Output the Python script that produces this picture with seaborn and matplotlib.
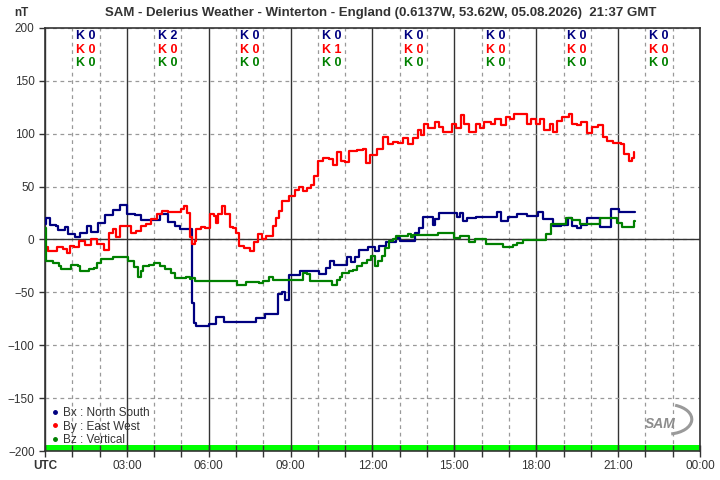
import numpy as np
import pandas as pd
import seaborn as sns
import matplotlib.pyplot as plt
from matplotlib.lines import Line2D
from matplotlib.patches import Arc
from matplotlib.ticker import MultipleLocator

# hours (UTC) and values in nT
bx_hours = [0.0, 0.05, 0.18, 0.4, 0.49, 0.75, 0.85, 1.1, 1.3, 1.55, 1.7, 1.95, 2.2, 2.5, 2.75, 3.0,
            3.3, 3.5, 4.0, 4.2, 4.5, 4.75, 4.95, 5.3, 5.4, 5.45, 5.55, 6.0, 6.25, 6.55, 7.6, 7.72,
            8.05, 8.55, 8.7, 8.8, 8.95, 9.35, 9.9, 10.05, 10.3, 10.45, 10.6, 11.05, 11.2, 11.35,
            11.5, 11.85, 12.1, 12.25, 12.5, 12.85, 13.0, 13.4, 13.55, 13.7, 13.85, 14.2, 14.3,
            14.42, 15.1, 15.2, 15.3, 15.45, 15.8, 16.55, 16.7, 16.95, 17.3, 17.65, 18.05, 18.25,
            18.6, 18.9, 19.15, 19.3, 19.5, 19.65, 19.85, 20.35, 20.75, 21.05, 21.3, 21.62]
bx_values = [15, 20, 14, 13, 9, 12, 5, 2, 6, 13, 7, 16, 23, 28, 33, 24,
             23, 18, 18, 24, 17, 13, 10, 10, -60, -79, -82, -80, -73, -78, -78, -74,
             -70, -52, -50, -57, -34, -30, -30, -33, -27, -20, -24, -17, -21, -17,
             -10, -7, -11, -6, -2, 1, -1, -1, 6.5, 11, 21, 14, 19,
             24.6, 21, 24.6, 17.7, 20, 21.5, 25.6, 17.7, 21.5, 24, 22, 26, 19,
             13, 14, 20, 13, 11, 14, 20, 11.7, 28.4, 25.6, 26, 26]

by_hours = [0.0, 0.1, 0.3, 0.45, 0.65, 0.8, 0.9, 1.05, 1.25, 1.45, 1.7, 1.9, 2.15, 2.35, 2.5, 2.6,
            2.75, 3.0, 3.15, 3.35, 3.5, 3.7, 3.9, 4.1, 4.3, 4.5, 4.85, 5.0, 5.1, 5.22, 5.3, 5.37,
            5.5, 5.55, 5.7, 5.85, 6.05, 6.2, 6.27, 6.35, 6.5, 6.6, 6.78, 6.9, 7.0, 7.1, 7.3, 7.5,
            7.65, 7.8, 7.95, 8.1, 8.35, 8.45, 8.58, 8.7, 8.95, 9.15, 9.3, 9.45, 9.6, 9.75, 9.85,
            10.0, 10.2, 10.4, 10.54, 10.7, 10.85, 11.0, 11.15, 11.45, 11.65, 11.76, 11.9, 12.15,
            12.4, 12.55, 12.75, 12.95, 13.1, 13.3, 13.5, 13.65, 13.78, 13.9, 14.05, 14.3, 14.45,
            14.6, 14.9, 15.05, 15.25, 15.35, 15.55, 15.8, 15.95, 16.1, 16.35, 16.5, 16.7, 16.9,
            17.05, 17.2, 17.55, 17.65, 17.8, 18.0, 18.15, 18.3, 18.5, 18.6, 18.75, 18.95, 19.2,
            19.3, 19.5, 19.65, 19.85, 20.05, 20.25, 20.45, 20.6, 20.8, 21.1, 21.2, 21.4, 21.52, 21.6]
by_values = [-7, -11, -11, -7, -9, -13, -6, -7, -1.6, -5, 0.6, -4, -9.5, 6, 9.6, 2,
             12.7, 13, 6, 8, 12.7, 15, 19, 24, 27, 26, 26, 29, 32, 25, 2, -4,
             -1, 10, 12, 11, 24, 22, 16, 24, 31.6, 24, 12, 11, 6, -6, -8, -11,
             -2, 5, 0, 3, 12.6, 20, 27, 36, 41, 47, 50, 46, 49, 52, 60,
             74, 77, 76, 70, 83, 74, 73, 84, 85, 86, 72, 80, 86,
             97, 90, 92, 91, 96, 90, 96, 104, 99, 109, 105, 111, 106,
             102, 109, 105, 118, 109, 102, 109, 105, 111, 109, 114, 108, 115.5,
             114, 118.5, 118.5, 109, 114, 109, 114, 104, 109, 102, 112, 115.5, 118.5,
             109, 108, 111, 101, 106, 108, 97, 93, 91, 90, 80.5, 74, 77, 83]

bz_hours = [0.0, 0.02, 0.3, 0.5, 0.6, 0.95, 1.2, 1.3, 1.6, 1.8, 1.9, 2.05, 2.5, 3.05, 3.25, 3.42,
            3.5, 3.6, 3.8, 4.0, 4.2, 4.4, 4.6, 4.75, 5.15, 5.3, 5.4, 5.5, 7.05, 7.35, 7.85, 8.0,
            8.2, 8.35, 9.45, 9.6, 9.7, 10.5, 10.7, 10.8, 10.9, 11.15, 11.3, 11.45, 11.6, 11.8,
            11.95, 12.1, 12.2, 12.35, 12.46, 12.6, 12.75, 12.85, 13.3, 13.4, 13.5, 14.4, 15.0,
            15.2, 15.55, 15.75, 16.15, 16.8, 17.15, 17.3, 17.5, 18.35, 18.55, 18.95, 19.1, 19.3,
            19.6, 20.35, 20.95, 21.15, 21.58, 21.62]
bz_values = [11, -20.5, -22, -25, -27.5, -24, -25, -30, -28, -27, -22, -18, -17, -20, -26, -35,
             -30, -25, -24, -22, -25, -28, -32, -36, -35, -37.5, -36, -39, -42.7, -40.5, -41, -39,
             -35, -38, -31.6, -33, -39.5, -42.7, -38, -35, -31.6, -30, -29, -25, -22, -19,
             -16, -24.6, -20, -16, -8, -1.6, 0, 3, 5, 2.5, 4, 6, 1.6,
             3, -2.5, 0, -4, -7, -5, -3, -0.6, 5, 15, 14.5, 20.5, 18,
             14.5, 20, 16, 11.7, 17.5, 17.5]

k_bx = [0, 2, 0, 0, 0, 0, 0, 0]
k_by = [0, 0, 0, 1, 0, 0, 0, 0]
k_bz = [0, 0, 0, 0, 0, 0, 0, 0]

hour_ticks = [0, 3, 6, 9, 12, 15, 18, 21, 24]
hour_labels = ["UTC", "03:00", "06:00", "09:00", "12:00", "15:00", "18:00", "21:00", "00:00"]
title = "SAM - Delerius Weather - Winterton - England (0.6137W, 53.62W, 05.08.2026)  21:37 GMT"

series = [("Bx : North South", bx_hours, bx_values, "#000080", k_bx),
          ("By : East West", by_hours, by_values, "#ff0000", k_by),
          ("Bz : Vertical", bz_hours, bz_values, "#008000", k_bz)]

sns.set_style("white")
plt.rcParams['font.family'] = ['Liberation Sans', 'DejaVu Sans']
dark = "#333333"

fig = plt.figure(figsize=(7.2, 4.8), dpi=100)
ax = fig.add_axes([0.0625, 0.0604, 0.9097, 0.8813])

ax.axhspan(-200, -194, color="#00ff00", zorder=0.3, lw=0)

for name, hrs, vals, col, k in series:
    df = pd.DataFrame({"hour": hrs, "nT": vals})
    sns.lineplot(data=df, x="hour", y="nT", ax=ax, color=col, lw=1.6,
                 drawstyle="steps-post", estimator=None, sort=False, zorder=3)

ax.set_xlim(0, 24)
ax.set_ylim(-200, 200)
ax.set_xticks(hour_ticks, hour_labels)
ax.xaxis.set_minor_locator(MultipleLocator(1))
ax.yaxis.set_major_locator(MultipleLocator(50))
ax.set_xlabel("")
ax.set_ylabel("")

ax.set_axisbelow(True)
ax.grid(which="major", axis="x", color=dark, lw=1.0, ls="-")
ax.grid(which="minor", axis="x", color="#999999", lw=0.9, ls=(0, (3, 3)))
ax.grid(which="major", axis="y", color="#999999", lw=0.9, ls=(0, (3, 3)))
ax.axhline(0, color=dark, lw=1.0, zorder=0.6)

ax.tick_params(axis="x", which="both", direction="inout", length=9, width=1,
               color=dark, labelsize=8.5, labelcolor=dark, pad=2, bottom=True)
ax.tick_params(axis="y", which="major", direction="out", length=4, width=1,
               color=dark, labelsize=8.5, labelcolor=dark, left=True)
ax.get_xticklabels()[0].set_fontweight("bold")
for sp in ax.spines.values():
    sp.set_color(dark)
    sp.set_linewidth(1.2)

# K indices above each 3 hour block
rows = [0.980, 0.949, 0.918]
for (name, hrs, vals, col, k), yr in zip(series, rows):
    for i, kv in enumerate(k):
        ax.text(1.5 + 3 * i, yr, f"K {kv}", transform=ax.get_xaxis_transform(),
                ha="center", va="center", color=col, fontsize=9, fontweight="bold")

fig.text(0.529, 0.972, title, ha="center", va="center",
         fontsize=9.5, fontweight="bold", color=dark)
fig.text(0.029, 0.972, "nT", ha="center", va="center", fontsize=8.5,
         fontweight="bold", color=dark)

handles = [Line2D([], [], ls="none", marker="o", ms=2.5, color=c) for _, _, _, c, _ in series]
ax.legend(handles, [s[0] for s in series], loc="lower left", bbox_to_anchor=(0.0, -0.005),
          frameon=False, fontsize=8.5, handlelength=0.5, handletextpad=0.4,
          labelspacing=0.12, labelcolor=dark, borderaxespad=0.2)

# SAM logo
ax.text(0.94, 0.065, "SAM", transform=ax.transAxes, ha="center", va="center",
        fontsize=10, fontstyle="italic", color="#8c8c8c", fontweight="bold")
ax.add_patch(Arc((0.95, 0.075), 0.075, 0.07, theta1=-80, theta2=70,
                 transform=ax.transAxes, color="#9a9a9a", lw=2.2))

fig.savefig("out.png", dpi=100)
